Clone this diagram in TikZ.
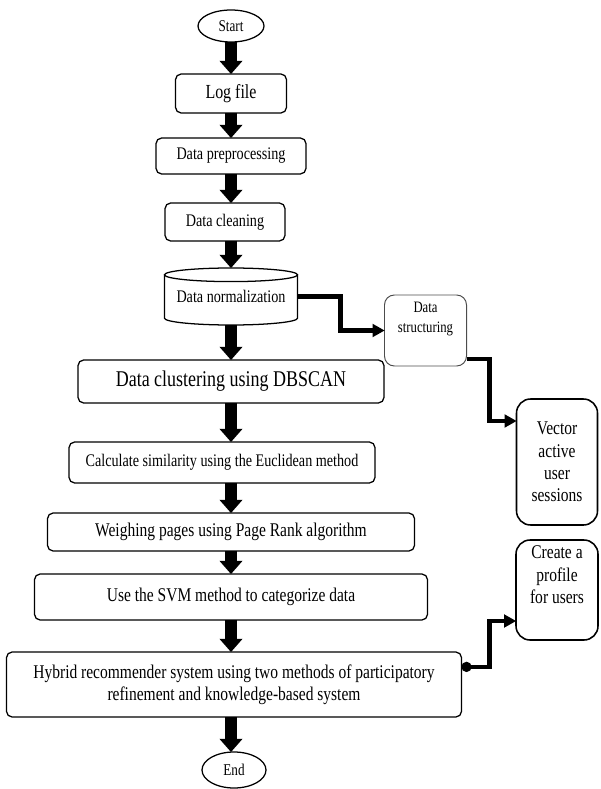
\documentclass[tikz,border=0pt]{standalone}
\usepackage{fontspec}
\setmainfont{Liberation Serif}[FakeStretch=0.8]
\usepackage{tikz}
\usetikzlibrary{positioning,arrows.meta,calc,shapes.geometric}

\begin{document}
\begin{tikzpicture}[
    every node/.style={outer sep=0pt},
    b/.style={draw, rounded corners=4pt, align=center, line width=0.9pt, inner sep=0pt, font={\fontsize{12.6}{15}\selectfont}},
    term/.style={draw, ellipse, line width=0.9pt, inner sep=0pt, minimum width=1.65cm, minimum height=0.8cm, font={\fontsize{11.7}{14}\selectfont}},
    sd/.style={b, rounded corners=10pt, line width=1.1pt, font={\fontsize{13.8}{15.8}\selectfont}},
    blk/.style={line width=0.31cm, -{Triangle[length=0.33cm, width=0.58cm, line width=0pt]}},
    fl/.style={line width=3pt, -{Triangle[length=0.3cm, width=0.34cm, line width=0pt]}},
]
    \useasboundingbox (0,0) rectangle (15,-19.725);
    \node[term] (start) at (5.775,-0.65) {Start};
    \node[b, below=0.8cm of start, minimum width=2.775cm, minimum height=0.975cm, font={\fontsize{14.2}{17}\selectfont}] (log) {Log file};
    \node[b, below=0.625cm of log, minimum width=3.75cm, minimum height=0.9cm] (pre) {Data preprocessing};
    \node[b, below=0.725cm of pre, xshift=-0.15cm, minimum width=3.0cm, minimum height=0.95cm] (clean) {Data cleaning};
    \node[below=0.675cm of clean, xshift=0.15cm, minimum width=3.325cm, minimum height=1.425cm, inner sep=0pt, font={\fontsize{12.6}{15}\selectfont}] (norm) {Data normalization};
    \node[b, below=0.875cm of norm, minimum width=7.65cm, minimum height=1.075cm, font={\fontsize{16}{19}\selectfont}] (clus) {Data clustering using DBSCAN};
    \node[b, below=0.975cm of clus, xshift=-0.225cm, minimum width=7.65cm, minimum height=1.025cm] (calc) {Calculate similarity using the Euclidean method};
    \node[b, below=0.75cm of calc, xshift=0.225cm, minimum width=9.175cm, minimum height=0.95cm, font={\fontsize{13.8}{16}\selectfont}] (weigh) {Weighing pages using Page Rank algorithm};
    \node[b, below=0.575cm of weigh, minimum width=9.825cm, minimum height=1.15cm, font={\fontsize{13.8}{16}\selectfont}] (svm) {Use the SVM method to categorize data};
    \node[b, below=0.8cm of svm, xshift=0.075cm, minimum width=11.375cm, minimum height=1.625cm, font={\fontsize{13.8}{15.4}\selectfont}] (hyb) {Hybrid recommender system using two methods of participatory\\refinement and knowledge-based system};
    \node[term, below=0.875cm of hyb, minimum width=1.6cm, minimum height=0.9cm] (end) {End};
    \node[b, below right=-0.75cm and 2.175cm of norm, rounded corners=7pt, line width=0.7pt, draw=black!70, minimum width=2.05cm, minimum height=1.775cm, font={\fontsize{11.3}{14.2}\selectfont}] (struct) {Data\\structuring\\[4pt]};
    \node[sd, below right=0.825cm and 1.25cm of struct, minimum width=2.025cm, minimum height=3.15cm] (vec) {Vector\\active\\user\\sessions};
    \node[sd, below=0.375cm of vec, minimum width=2.05cm, minimum height=2.5cm] (prof) {Create a\\profile\\for users\\[6pt]};
    % cylinder round the normalization node
    \draw[line width=0.9pt] ([yshift=-0.17cm]norm.north west) -- ([yshift=0.17cm]norm.south west)
        arc[start angle=180, end angle=360, x radius=1.6625cm, y radius=0.17cm] -- ([yshift=-0.17cm]norm.north east);
    \draw[line width=0.9pt] ([yshift=-0.17cm]norm.north) ellipse[x radius=1.6625cm, y radius=0.17cm];
    % main flow
    \foreach \a/\b in {start/log,log/pre,pre/clean,clean/norm,norm/clus,clus/calc,calc/weigh,weigh/svm,svm/hyb,hyb/end}
        \draw[blk] (\a.south -| start) -- (\b.north -| start);
    % side branches
    \draw[fl] (norm.east) -- ++(1.075cm,0) |- (struct.west);
    \draw[fl] ([yshift=0.175cm]struct.south east) -- ++(0.575cm,0) |- ([yshift=1.025cm]vec.west);
    \draw[fl, {Circle[length=0.25cm]}-{Triangle[length=0.3cm, width=0.34cm, line width=0pt]}] ([yshift=0.44cm]hyb.east) -- ++(0.7cm,0) |- ([yshift=-0.775cm]prof.west);
\end{tikzpicture}
\end{document}
